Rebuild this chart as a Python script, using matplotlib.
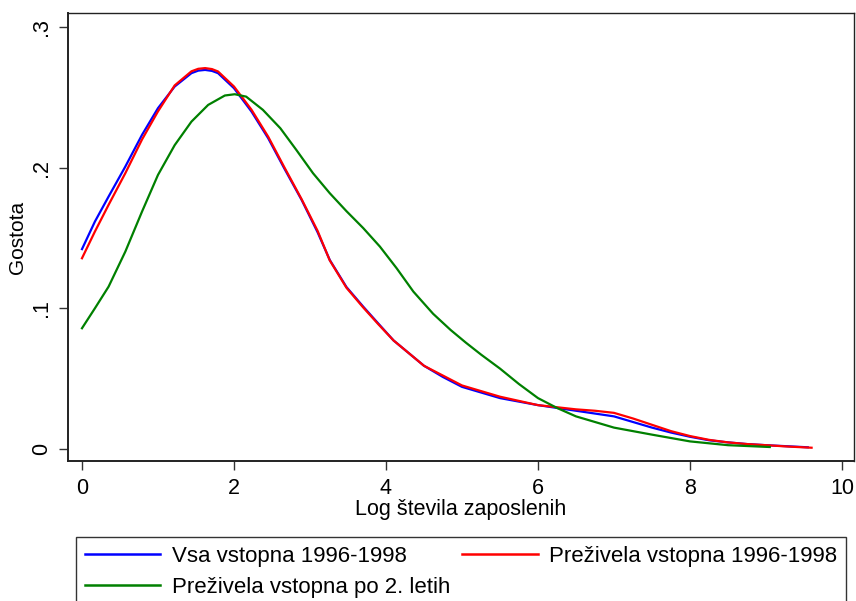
import numpy as np
import matplotlib
matplotlib.use('Agg')
import matplotlib.pyplot as plt

plt.rcParams['font.family'] = ['Liberation Sans', 'DejaVu Sans']

# gostota (kernel) po log števila zaposlenih
x_vsa = [0, 0.17, 0.35, 0.57, 0.79, 1.0, 1.22, 1.44, 1.53, 1.62, 1.71, 1.79, 2.0, 2.23,
         2.45, 2.66, 2.89, 3.1, 3.26, 3.48, 3.7, 3.9, 4.1, 4.3, 4.5, 4.75, 5.0, 5.25, 5.5,
         5.75, 6.0, 6.25, 6.5, 6.75, 7.0, 7.25, 7.5, 7.75, 8.0, 8.25, 8.5, 8.75, 9.0,
         9.3, 9.55]
y_vsa = [0.142, 0.1616, 0.1794, 0.2007, 0.2233, 0.2423, 0.2577, 0.2672, 0.2690, 0.2695,
         0.2688, 0.2672, 0.2565, 0.2399, 0.2209, 0.1996, 0.177, 0.154, 0.1343, 0.115,
         0.1011, 0.089, 0.077, 0.068, 0.059, 0.051, 0.044, 0.040, 0.036, 0.0335, 0.031,
         0.029, 0.027, 0.025, 0.023, 0.019, 0.015, 0.0115, 0.0085, 0.006, 0.0045,
         0.0033, 0.0025, 0.0017, 0.001]

x_prez = [0, 0.17, 0.35, 0.57, 0.79, 1.0, 1.22, 1.44, 1.53, 1.62, 1.71, 1.79, 2.0, 2.23,
          2.45, 2.66, 2.89, 3.1, 3.26, 3.48, 3.7, 3.9, 4.1, 4.3, 4.5, 4.75, 5.0, 5.25,
          5.5, 5.75, 6.0, 6.25, 6.5, 6.75, 7.0, 7.25, 7.5, 7.75, 8.0, 8.25, 8.5, 8.75,
          9.0, 9.3, 9.6]
y_prez = [0.1355, 0.1545, 0.1735, 0.196, 0.220, 0.240, 0.2585, 0.2685, 0.2703, 0.2708,
          0.2701, 0.2684, 0.2577, 0.2412, 0.222, 0.2005, 0.1775, 0.155, 0.134, 0.1145,
          0.1005, 0.0885, 0.077, 0.068, 0.059, 0.052, 0.045, 0.041, 0.037, 0.034, 0.031,
          0.0295, 0.028, 0.027, 0.0255, 0.0215, 0.017, 0.0125, 0.009, 0.0063, 0.0045,
          0.0033, 0.0025, 0.0015, 0.0007]

x_po2 = [0, 0.17, 0.35, 0.57, 0.79, 1.0, 1.22, 1.44, 1.66, 1.88, 2.01, 2.16, 2.38, 2.61,
         2.82, 3.04, 3.26, 3.48, 3.7, 3.92, 4.14, 4.36, 4.62, 4.85, 5.05, 5.25, 5.5,
         5.75, 6.0, 6.25, 6.5, 6.75, 7.0, 7.5, 8.0, 8.5, 9.05]
y_po2 = [0.0857, 0.0999, 0.1153, 0.1402, 0.1687, 0.1948, 0.216, 0.2327, 0.2446, 0.2513,
         0.2522, 0.2505, 0.2411, 0.228, 0.2126, 0.196, 0.1818, 0.1690, 0.1570, 0.1438,
         0.1284, 0.1118, 0.0960, 0.0845, 0.0755, 0.067, 0.057, 0.046, 0.036, 0.029,
         0.023, 0.019, 0.015, 0.010, 0.0052, 0.0025, 0.0012]

labels = ['Vsa vstopna 1996-1998', 'Preživela vstopna 1996-1998',
          'Preživela vstopna po 2. letih']

fig = plt.figure(figsize=(8.56, 6.01), dpi=100)
ax = fig.add_axes([68/856, 1-461/601, (854-68)/856, (461-13)/601])

lw = 1.6
p1, = ax.plot(x_vsa, y_vsa, color='#0000ff', lw=lw, label=labels[0], solid_joinstyle='round')
p2, = ax.plot(x_prez, y_prez, color='#ff0000', lw=lw, label=labels[1], solid_joinstyle='round')
p3, = ax.plot(x_po2, y_po2, color='#008000', lw=lw, label=labels[2], solid_joinstyle='round')

ax.set_xlim(-0.184, 10.158)
ax.set_ylim(-0.00875, 0.310)

ax.set_xticks([0, 2, 4, 6, 8, 10])
ax.set_yticks([0, 0.1, 0.2, 0.3])
ax.set_yticklabels(['0', '.1', '.2', '.3'], rotation=90, va='center')

for s in ax.spines.values():
    s.set_color('#222222')
    s.set_linewidth(1.0)
ax.spines['left'].set_linewidth(1.4)
ax.spines['bottom'].set_linewidth(1.4)

ax.tick_params(axis='both', direction='out', length=6.5, width=1.0, color='#333333',
               labelsize=15.5, pad=5)
ax.tick_params(axis='x', pad=6)
ax.tick_params(top=False, right=False)

ax.set_xlabel('Log števila zaposlenih', fontsize=15.5, labelpad=0)
ax.set_ylabel('Gostota', fontsize=15, labelpad=3)

# legenda pod grafom, dva stolpca
leg = fig.legend(handles=[p1, p3, p2], labels=[labels[0], labels[2], labels[1]],
                 loc='upper left', bbox_to_anchor=(76/856, 1-537/601, (846-76)/856, 0),
                 mode='expand', ncol=2, fontsize=16, frameon=True, fancybox=False,
                 edgecolor='black', handlelength=3.4, handletextpad=0.5,
                 labelspacing=0.45, borderpad=0.4, borderaxespad=0, columnspacing=1.2)
leg.get_frame().set_linewidth(1.0)
for l in leg.get_lines():
    l.set_linewidth(1.8)

fig.savefig('out.png', dpi=100)
plt.close()
